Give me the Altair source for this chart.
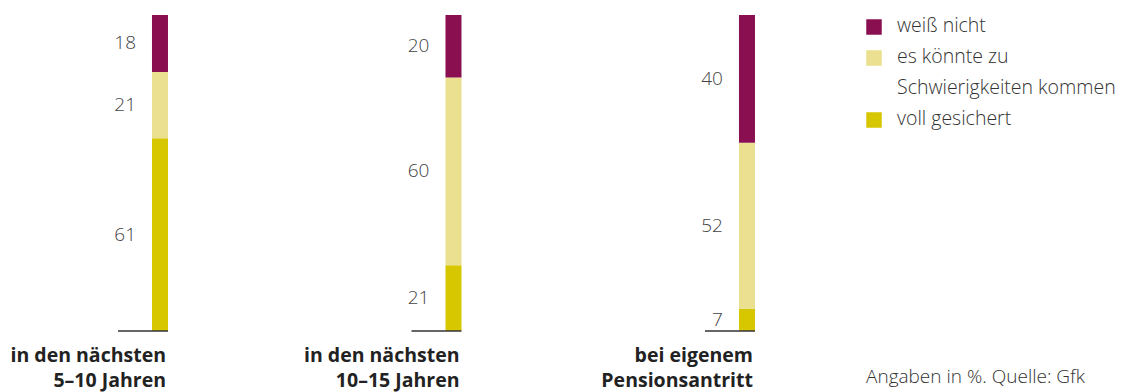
import altair as alt
import pandas as pd

# ---- data ----
categories = ["in den nächsten\n5–10 Jahren", "in den nächsten\n10–15 Jahren", "bei eigenem\nPensionsantritt"]
series = ["weiß nicht", "es könnte zu Schwierigkeiten kommen", "voll gesichert"]
weiss_nicht = [18, 20, 40]
schwierigkeiten = [21, 60, 52]
voll_gesichert = [61, 21, 7]
legend_lines = [["weiß nicht"], ["es könnte zu", "Schwierigkeiten kommen"], ["voll gesichert"]]
colors = ["#8A0F50", "#EAE08F", "#D6C700"]
footnote = "Angaben in %. Quelle: Gfk"

# ---- tables ----
values_by_series = {
    "voll gesichert": voll_gesichert,
    "es könnte zu Schwierigkeiten kommen": schwierigkeiten,
    "weiß nicht": weiss_nicht,
}
stack_order = ["voll gesichert", "es könnte zu Schwierigkeiten kommen", "weiß nicht"]
rows = []
for i, cat in enumerate(categories):
    for o, s in enumerate(stack_order):
        v = values_by_series[s][i]
        rows.append({"idx": i, "cat": cat, "series": s, "order": o, "value": v, "label": str(v)})
df = pd.DataFrame(rows)
cat_df = pd.DataFrame({"idx": list(range(len(categories))), "cat": categories})

leg_rows = []
r = 0
for s, lines in zip(series, legend_lines):
    for j, line in enumerate(lines):
        leg_rows.append({"series": s, "text": line, "row": r, "first": j == 0})
        r += 1
leg_df = pd.DataFrame(leg_rows)

FONT = "Open Sans"
W, H = 1127, 316
xscale = alt.Scale(domain=[-0.5451, 3.2948], nice=False, zero=False, padding=0)
yscale = alt.Scale(domain=[0, 1], nice=False, zero=False, padding=0)
cscale = alt.Scale(domain=series, range=colors)

stacked = alt.Chart(df).transform_stack(
    stack="value", groupby=["idx"], as_=["y0", "y1"], offset="normalize",
    sort=[alt.SortField("order", order="ascending")]
)

bars = stacked.mark_bar(size=16).encode(
    x=alt.X("idx:Q", scale=xscale, axis=None),
    y=alt.Y("y0:Q", scale=yscale, axis=None),
    y2="y1:Q",
    color=alt.Color("series:N", scale=cscale, legend=None),
)

vals = stacked.transform_calculate(mid="(datum.y0 + datum.y1) / 2").mark_text(
    align="right", baseline="middle", dx=-24, font=FONT, fontSize=19, fontWeight=300, color="#444444"
).encode(
    x=alt.X("idx:Q", scale=xscale, axis=None),
    y=alt.Y("mid:Q", scale=yscale, axis=None),
    text="label:N",
)

baseline = alt.Chart(cat_df).mark_rule(
    xOffset=-42, x2Offset=8, color="#333333", strokeWidth=1.5
).encode(
    x=alt.X("idx:Q", scale=xscale, axis=None),
    x2=alt.X2("idx"),
    y=alt.YDatum(0, type="quantitative", scale=yscale, axis=None),
)

cat_labels = alt.Chart(cat_df).mark_text(
    align="right", baseline="top", dx=6, lineBreak="\n", lineHeight=25,
    font=FONT, fontSize=19.5, fontWeight="bold", color="#222222"
).encode(
    x=alt.X("idx:Q", scale=xscale, axis=None),
    y=alt.value(332),
    text="cat:N",
)

rowscale = alt.Scale(domain=[0, 3], range=[11, 104], nice=False, zero=False)
leg_sq = alt.Chart(leg_df).transform_filter("datum.first").mark_square(
    size=240, opacity=1, yOffset=1
).encode(
    x=alt.value(874),
    y=alt.Y("row:Q", scale=rowscale, axis=None),
    color=alt.Color("series:N", scale=cscale, legend=None),
)
leg_txt = alt.Chart(leg_df).mark_text(
    align="left", baseline="middle", font=FONT, fontSize=19.5, fontWeight=300, color="#333333"
).encode(
    x=alt.value(897),
    y=alt.Y("row:Q", scale=rowscale, axis=None),
    text="text:N",
)

foot = alt.Chart(pd.DataFrame({"t": [footnote]})).mark_text(
    align="left", baseline="middle", font=FONT, fontSize=19, fontWeight=300, color="#333333"
).encode(
    x=alt.value(866),
    y=alt.value(362),
    text="t:N",
)

chart = alt.layer(bars, baseline, vals, cat_labels, leg_sq, leg_txt, foot).resolve_scale(
    y="independent"
).properties(
    width=W, height=H,
    autosize=alt.AutoSizeParams(type="none"),
    padding={"left": 0, "right": 0, "top": 15, "bottom": 61},
    background="white",
).configure_view(stroke=None)

chart.save("out.html", embed_options={"renderer": "svg", "actions": False})
